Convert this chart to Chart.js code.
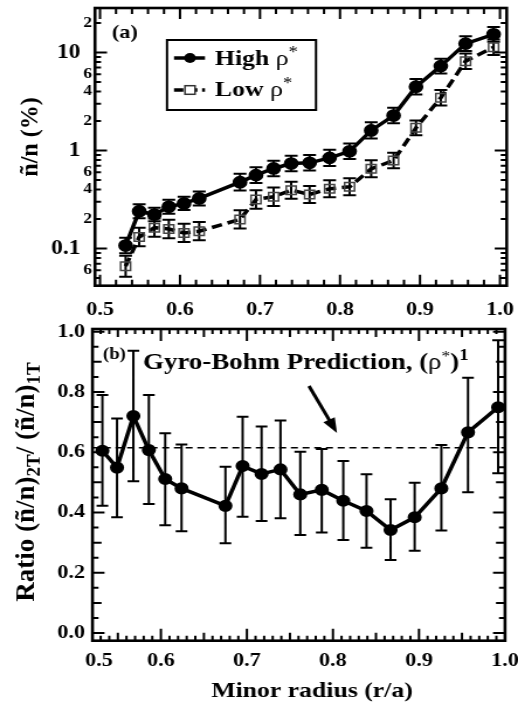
<!DOCTYPE html>
<html>
<head>
<meta charset="utf-8">
<script src="https://cdn.jsdelivr.net/npm/chart.js@4.4.1/dist/chart.umd.min.js"></script>
<style>
html, body { margin: 0; padding: 0; background: #fff; }
#wrap { position: relative; width: 518px; height: 706px; overflow: hidden; }
canvas { position: absolute; left: 0; }
</style>
</head>
<body>
<div id="wrap">
    <canvas id="topChart" width="443" height="316" style="top:0;width:518px;height:316px;"></canvas>
    <canvas id="bottomChart" width="443" height="390" style="top:316px;width:518px;height:390px;"></canvas>
</div>
<script>
// the original figure is stretched sideways, so both canvases are drawn narrow and widened by css
const SX = 518 / 443;
const FONT = "'Liberation Serif', 'Times New Roman', serif";

// minor radius of each measurement (r/a)
const radius = [0.532, 0.549, 0.568, 0.586, 0.605, 0.624, 0.675, 0.695, 0.717, 0.739, 0.762, 0.787, 0.812, 0.839, 0.867, 0.895, 0.926, 0.957, 0.992];

// (a) fluctuation level n~/n in %
const highRho = [0.107, 0.24, 0.222, 0.266, 0.288, 0.324, 0.475, 0.56, 0.655, 0.735, 0.748, 0.84, 0.98, 1.6, 2.27, 4.47, 7.25, 12.3, 15.3];
const highErr = [0.2, 0.18, 0.17, 0.18, 0.17, 0.18, 0.22, 0.2, 0.2, 0.2, 0.2, 0.21, 0.2, 0.21, 0.2, 0.2, 0.19, 0.19, 0.19];
const lowRho = [0.066, 0.131, 0.163, 0.158, 0.144, 0.150, 0.198, 0.316, 0.337, 0.393, 0.356, 0.406, 0.426, 0.65, 0.79, 1.7, 3.45, 8.15, 11.3];
const lowErr = [0.28, 0.24, 0.24, 0.24, 0.24, 0.24, 0.24, 0.24, 0.24, 0.22, 0.22, 0.22, 0.22, 0.22, 0.2, 0.19, 0.2, 0.2, 0.2];

// (b) ratio of the two
const ratio = [0.605, 0.549, 0.720, 0.607, 0.511, 0.480, 0.422, 0.554, 0.528, 0.543, 0.460, 0.475, 0.439, 0.405, 0.342, 0.384, 0.480, 0.666, 0.749];
const ratioHi = [0.79, 0.712, 0.937, 0.79, 0.663, 0.626, 0.552, 0.718, 0.685, 0.705, 0.602, 0.611, 0.571, 0.527, 0.444, 0.499, 0.624, 0.847, 0.972];
const ratioLo = [0.422, 0.384, 0.504, 0.428, 0.358, 0.338, 0.298, 0.386, 0.372, 0.381, 0.325, 0.334, 0.309, 0.283, 0.242, 0.273, 0.34, 0.467, 0.530];
const gyroBohm = 0.615;

// tick labels
const logTickValues = [0.06, 0.1, 0.2, 0.4, 0.6, 1, 2, 4, 6, 10, 20];
const logTickLabels = ['6', '0.1', '2', '4', '6', '1', '2', '4', '6', '10', '2'];
const xTickValuesA = [0.5, 0.6, 0.7, 0.8, 0.9, 1.0];
const xTickValuesB = [0.528, 0.6, 0.7, 0.8, 0.9, 1.0];
const xTickLabels = ['0.5', '0.6', '0.7', '0.8', '0.9', '1.0'];
const yTickValuesB = [0, 0.2, 0.4, 0.6, 0.8, 1.0];
const yTickLabelsB = ['0.0', '0.2', '0.4', '0.6', '0.8', '1.0'];

function isDecade(v) {
    return Math.abs(Math.log10(v) - Math.round(Math.log10(v))) < 1e-6;
}

// small inward tick marks on all four sides
let topXTicks = [], topYTicks = [], botXTicks = [], botYTicks = [];
for (let k = 0; k <= 25; k++) topXTicks.push({v: 0.5 + 0.02 * k, len: k % 5 === 0 ? 11 : 6});
[0.01, 0.1, 1, 10].forEach(function (d) {
    for (let m = 1; m <= 9; m++) topYTicks.push({v: m * d, len: m === 1 ? 12 : 6});
});
for (let k = 52; k <= 100; k++) botXTicks.push({v: k / 100, len: k % 10 === 0 ? 12 : (k % 5 === 0 ? 8 : 5)});
for (let k = 0; k <= 20; k++) botYTicks.push({v: k * 0.05, len: k % 4 === 0 ? 12 : (k % 2 === 0 ? 9 : 6)});

function makeFrame(xTicks, yTicks) {
    return {
        id: 'frame',
        afterDraw(chart) {
            const ctx = chart.ctx;
            const a = chart.chartArea;
            const x = chart.scales.x, y = chart.scales.y;
            ctx.save();
            ctx.strokeStyle = '#000';
            ctx.lineWidth = 2;
            ctx.beginPath();
            xTicks.forEach(function (t) {
                const px = x.getPixelForValue(t.v);
                if (px < a.left + 1 || px > a.right - 1) return;
                ctx.moveTo(px, a.bottom); ctx.lineTo(px, a.bottom - t.len);
                ctx.moveTo(px, a.top); ctx.lineTo(px, a.top + t.len);
            });
            yTicks.forEach(function (t) {
                const py = y.getPixelForValue(t.v);
                if (py < a.top + 1 || py > a.bottom - 1) return;
                const l = t.len / SX;
                ctx.moveTo(a.left, py); ctx.lineTo(a.left + l, py);
                ctx.moveTo(a.right, py); ctx.lineTo(a.right - l, py);
            });
            ctx.stroke();
            ctx.lineWidth = 2.6;
            ctx.strokeRect(a.left, a.top, a.right - a.left, a.bottom - a.top);
            ctx.restore();
        }
    };
}

const errorBars = {
    id: 'errorBars',
    beforeDatasetsDraw(chart) {
        const ctx = chart.ctx;
        const xs = chart.scales.x, ys = chart.scales.y;
        chart.data.datasets.forEach(function (ds) {
            if (!ds.errLo) return;
            ctx.save();
            ctx.strokeStyle = '#000';
            ctx.lineWidth = ds.errWidth;
            ctx.beginPath();
            ds.data.forEach(function (p, i) {
                const px = xs.getPixelForValue(p.x);
                const y1 = ys.getPixelForValue(ds.errLo[i]);
                const y2 = ys.getPixelForValue(ds.errHi[i]);
                const c = ds.capHalf;
                ctx.moveTo(px, y1); ctx.lineTo(px, y2);
                ctx.moveTo(px - c, y1); ctx.lineTo(px + c, y1);
                ctx.moveTo(px - c, y2); ctx.lineTo(px + c, y2);
            });
            ctx.stroke();
            ctx.restore();
        });
    }
};

// draws a run of text pieces (bold/normal, super/subscript) starting at x
function textRun(ctx, parts, x, y) {
    let cx = x;
    parts.forEach(function (p) {
        ctx.font = (p.weight || 'bold') + ' ' + p.size + 'px ' + FONT;
        ctx.fillText(p.t, cx, y + (p.dy || 0));
        cx += ctx.measureText(p.t).width;
    });
    return cx - x;
}
function runWidth(ctx, parts) {
    let w = 0;
    parts.forEach(function (p) {
        ctx.font = (p.weight || 'bold') + ' ' + p.size + 'px ' + FONT;
        w += ctx.measureText(p.t).width;
    });
    return w;
}
// vertical axis titles, drawn without the sideways stretch
function rotatedRun(ctx, parts, bx, cy) {
    ctx.save();
    ctx.translate(bx, cy);
    ctx.scale(1 / SX, 1);
    ctx.rotate(-Math.PI / 2);
    textRun(ctx, parts, -runWidth(ctx, parts) / 2, 0);
    ctx.restore();
}

const topText = {
    id: 'topText',
    afterDraw(chart) {
        const ctx = chart.ctx;
        ctx.save();
        ctx.fillStyle = '#000';
        ctx.strokeStyle = '#000';
        ctx.textBaseline = 'alphabetic';
        ctx.textAlign = 'left';
        textRun(ctx, [{t: '(a)', size: 19}], 112 / SX, 38);
        rotatedRun(ctx, [{t: 'ñ/n (%)', size: 24}], 38 / SX, 137);

        // legend box
        ctx.lineWidth = 2;
        ctx.strokeRect(167 / SX, 40, (316 - 167) / SX, 70);
        // high rho* entry
        ctx.lineWidth = 3.5;
        ctx.beginPath();
        ctx.moveTo(174 / SX, 58); ctx.lineTo(205 / SX, 58);
        ctx.stroke();
        ctx.beginPath();
        ctx.arc(190 / SX, 58, 5, 0, Math.PI * 2);
        ctx.fill();
        textRun(ctx, [{t: 'High ', size: 22}, {t: 'ρ', size: 22, weight: 'normal'}, {t: '*', size: 16, weight: 'normal', dy: -8}], 215 / SX, 65);
        // low rho* entry
        ctx.setLineDash([8, 4]);
        ctx.beginPath();
        ctx.moveTo(174 / SX, 90); ctx.lineTo(205 / SX, 90);
        ctx.stroke();
        ctx.setLineDash([]);
        ctx.fillStyle = '#fff';
        ctx.fillRect(190 / SX - 4.3, 90 - 4.3, 8.6, 8.6);
        ctx.lineWidth = 1.5;
        ctx.strokeStyle = '#333';
        ctx.strokeRect(190 / SX - 4.3, 90 - 4.3, 8.6, 8.6);
        ctx.fillStyle = '#000';
        textRun(ctx, [{t: 'Low ', size: 22}, {t: 'ρ', size: 22, weight: 'normal'}, {t: '*', size: 16, weight: 'normal', dy: -8}], 215 / SX, 96);
        ctx.restore();
    }
};

const bottomText = {
    id: 'bottomText',
    afterDraw(chart) {
        const ctx = chart.ctx;
        ctx.save();
        ctx.fillStyle = '#000';
        ctx.strokeStyle = '#000';
        ctx.textBaseline = 'alphabetic';
        ctx.textAlign = 'left';
        textRun(ctx, [{t: '(b)', size: 16}], 103 / SX, 43);
        textRun(ctx, [
            {t: 'Gyro-Bohm Prediction, (', size: 23},
            {t: 'ρ', size: 23, weight: 'normal'},
            {t: '*', size: 15, weight: 'normal', dy: -8},
            {t: ')', size: 23},
            {t: '1', size: 16, dy: -9}
        ], 143 / SX, 53);

        // arrow pointing at the dashed line
        const x1 = 309 / SX, y1 = 70, x2 = 337 / SX, y2 = 117;
        const ang = Math.atan2(y2 - y1, x2 - x1);
        ctx.lineWidth = 3;
        ctx.beginPath();
        ctx.moveTo(x1, y1);
        ctx.lineTo(x2 - 10 * Math.cos(ang), y2 - 10 * Math.sin(ang));
        ctx.stroke();
        ctx.beginPath();
        ctx.moveTo(x2, y2);
        ctx.lineTo(x2 - 15 * Math.cos(ang) + 5.5 * Math.sin(ang), y2 - 15 * Math.sin(ang) - 5.5 * Math.cos(ang));
        ctx.lineTo(x2 - 15 * Math.cos(ang) - 5.5 * Math.sin(ang), y2 - 15 * Math.sin(ang) + 5.5 * Math.cos(ang));
        ctx.closePath();
        ctx.fill();

        const title = [{t: 'Minor radius (r/a)', size: 22}];
        textRun(ctx, title, 312 / SX - runWidth(ctx, title) / 2, 381);
        rotatedRun(ctx, [
            {t: 'Ratio (ñ/n)', size: 27},
            {t: '2T', size: 19, dy: 6},
            {t: '/ (ñ/n)', size: 27},
            {t: '1T', size: 19, dy: 6}
        ], 34 / SX, 166);
        ctx.restore();
    }
};

function fixWidth(w) {
    return function (scale) { scale.width = w; scale.paddingTop = 0; scale.paddingBottom = 0; };
}
function fixHeight(h) {
    return function (scale) { scale.height = h; scale.paddingLeft = 0; scale.paddingRight = 0; };
}

new Chart(document.getElementById('topChart'), {
    type: 'line',
    data: {
        datasets: [{
            label: 'High ρ*',
            data: radius.map(function (r, i) { return {x: r, y: highRho[i]}; }),
            errLo: highRho.map(function (v, i) { return v / (1 + highErr[i]); }),
            errHi: highRho.map(function (v, i) { return v * (1 + highErr[i]); }),
            errWidth: 2,
            capHalf: 5.5,
            borderColor: '#000',
            borderWidth: 3.5,
            pointStyle: 'circle',
            pointRadius: 4.6,
            pointBackgroundColor: '#000',
            pointBorderColor: '#000',
            tension: 0
        }, {
            label: 'Low ρ*',
            data: radius.map(function (r, i) { return {x: r, y: lowRho[i]}; }),
            errLo: lowRho.map(function (v, i) { return v / (1 + lowErr[i]); }),
            errHi: lowRho.map(function (v, i) { return v * (1 + lowErr[i]); }),
            errWidth: 2,
            capHalf: 5.5,
            borderColor: '#000',
            borderWidth: 3.5,
            borderDash: [9, 5],
            pointStyle: 'rect',
            pointRadius: 6,
            pointBackgroundColor: 'rgba(255,255,255,0)',
            pointBorderColor: '#444',
            pointBorderWidth: 1.5,
            tension: 0
        }]
    },
    plugins: [errorBars, makeFrame(topXTicks, topYTicks), topText],
    options: {
        responsive: false,
        animation: false,
        layout: {autoPadding: false, padding: {left: 0, top: 8, right: 443 - 506.7 / SX, bottom: 0}},
        plugins: {legend: {display: false}, tooltip: {enabled: false}},
        scales: {
            x: {
                type: 'linear',
                min: 0.49375,
                max: 1.0084,
                grid: {display: false, drawTicks: false},
                border: {display: false},
                afterBuildTicks: function (scale) { scale.ticks = xTickValuesA.map(function (v) { return {value: v}; }); },
                afterFit: fixHeight(316 - 285.7),
                ticks: {
                    autoSkip: false, maxRotation: 0, padding: 13, color: '#000',
                    font: {family: FONT, size: 19, weight: 'bold'},
                    callback: function (v, i) { return xTickLabels[i]; }
                }
            },
            y: {
                type: 'logarithmic',
                min: 0.0417,
                max: 28.4,
                grid: {display: false, drawTicks: false},
                border: {display: false},
                afterBuildTicks: function (scale) { scale.ticks = logTickValues.map(function (v) { return {value: v}; }); },
                afterFit: fixWidth(95 / SX),
                ticks: {
                    autoSkip: false, padding: 2.6, color: '#000',
                    font: function (c) {
                        return {family: FONT, size: (c.tick && isDecade(c.tick.value)) ? 20 : 15, weight: 'bold'};
                    },
                    callback: function (v, i) { return isDecade(v) ? logTickLabels[i] + '  ' : logTickLabels[i]; }
                }
            }
        }
    }
});

new Chart(document.getElementById('bottomChart'), {
    type: 'line',
    data: {
        datasets: [{
            label: 'Ratio',
            data: radius.map(function (r, i) { return {x: r, y: ratio[i]}; }),
            errLo: ratioLo,
            errHi: ratioHi,
            errWidth: 2,
            capHalf: 5,
            borderColor: '#000',
            borderWidth: 3.5,
            pointStyle: 'circle',
            pointRadius: 4.3,
            pointBackgroundColor: '#000',
            pointBorderColor: '#000',
            tension: 0
        }, {
            label: 'Gyro-Bohm',
            data: [{x: 0.52, y: gyroBohm}, {x: 1.0, y: gyroBohm}],
            borderColor: '#000',
            borderWidth: 1.6,
            borderDash: [6, 4],
            pointRadius: 0
        }]
    },
    plugins: [errorBars, makeFrame(botXTicks, botYTicks), bottomText],
    options: {
        responsive: false,
        animation: false,
        layout: {autoPadding: false, padding: {left: 0, top: 13, right: 443 - 505 / SX, bottom: 0}},
        plugins: {legend: {display: false}, tooltip: {enabled: false}},
        scales: {
            x: {
                type: 'linear',
                min: 0.5205,
                max: 1.0,
                grid: {display: false, drawTicks: false},
                border: {display: false},
                afterBuildTicks: function (scale) { scale.ticks = xTickValuesB.map(function (v) { return {value: v}; }); },
                afterFit: fixHeight(390 - 324.7),
                ticks: {
                    autoSkip: false, maxRotation: 0, padding: 9, color: '#000',
                    font: {family: FONT, size: 19, weight: 'bold'},
                    callback: function (v, i) { return xTickLabels[i]; }
                }
            },
            y: {
                type: 'linear',
                min: -0.0255,
                max: 1.009,
                grid: {display: false, drawTicks: false},
                border: {display: false},
                afterBuildTicks: function (scale) { scale.ticks = yTickValuesB.map(function (v) { return {value: v}; }); },
                afterFit: fixWidth(92.5 / SX),
                ticks: {
                    autoSkip: false, padding: 6.4, color: '#000',
                    font: {family: FONT, size: 19, weight: 'bold'},
                    callback: function (v, i) { return yTickLabelsB[i]; }
                }
            }
        }
    }
});
</script>
</body>
</html>
